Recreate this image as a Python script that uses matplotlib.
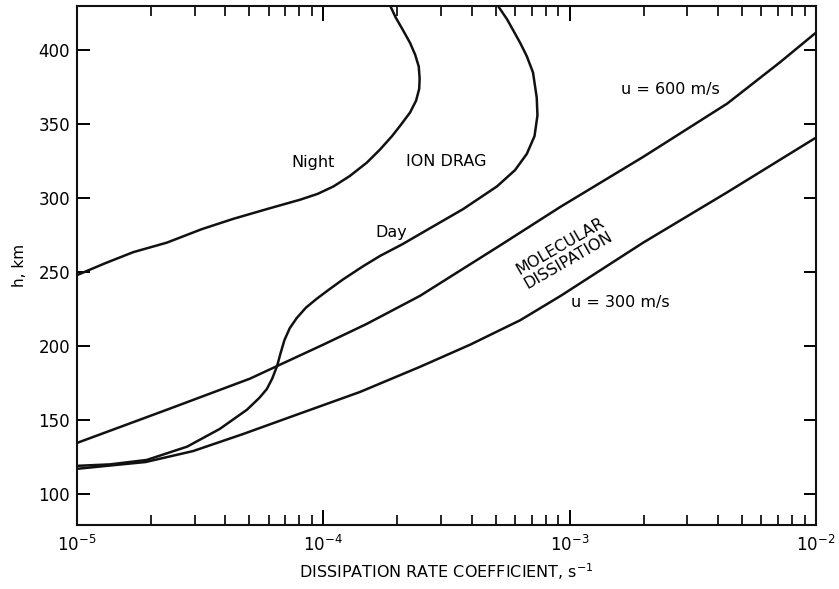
import numpy as np
import matplotlib
matplotlib.use("Agg")
import matplotlib.pyplot as plt
from matplotlib.ticker import LogLocator, NullFormatter

#-------- données (x en s^-1, h en km) --------#
night_x = [1.0e-5, 1.3e-5, 1.69e-5, 2.32e-5, 3.2e-5, 4.3e-5, 6.0e-5, 8.05e-5, 9.5e-5,
           1.1e-4, 1.28e-4, 1.5e-4, 1.7e-4, 1.9e-4, 2.05e-4, 2.25e-4, 2.38e-4, 2.45e-4,
           2.46e-4, 2.44e-4, 2.36e-4, 2.25e-4, 2.1e-4, 1.97e-4, 1.87e-4]
night_h = [248, 256, 263.5, 270, 279, 286, 293, 299, 303,
           308, 315, 324, 333, 342, 349, 358, 366, 374,
           381, 389, 397, 405, 414, 422, 430]

day_x = [1.0e-5, 1.36e-5, 1.92e-5, 2.8e-5, 3.8e-5, 4.9e-5, 5.5e-5, 5.9e-5, 6.2e-5,
         6.49e-5, 6.7e-5, 6.95e-5, 7.3e-5, 7.8e-5, 8.5e-5, 9.4e-5, 1.05e-4, 1.2e-4,
         1.45e-4, 1.7e-4, 2.1e-4, 2.54e-4, 3.69e-4, 5.07e-4, 6.0e-4, 6.7e-4, 7.2e-4,
         7.4e-4, 7.35e-4, 7.1e-4, 6.7e-4, 6.3e-4, 5.57e-4, 5.12e-4]
day_h = [119, 120, 123, 132, 144, 157, 165, 171, 178,
         186.5, 195, 204, 212, 219, 226, 232, 238, 245,
         254, 261, 269, 277, 292.6, 308, 319, 330, 342,
         356, 368, 385, 396, 405, 421, 430]

u600_x = [1e-5, 2.32e-5, 5.04e-5, 6.49e-5, 1e-4, 1.5e-4, 2.47e-4, 5.21e-4, 9.14e-4,
          1.99e-3, 4.36e-3, 7.15e-3, 1e-2]
u600_h = [134.5, 157, 178, 186.5, 201, 215, 234, 268, 294,
          328, 364, 392, 412]

u300_x = [1e-5, 1.9e-5, 2.96e-5, 4.72e-5, 7.53e-5, 1.41e-4, 2.47e-4, 3.95e-4,
          6.3e-4, 9.2e-4, 1.99e-3, 4.36e-3, 1e-2]
u300_h = [117, 121.6, 129, 140.5, 152.7, 169, 186, 201,
          217.5, 234, 270, 304, 341]

y_ticks = [100, 150, 200, 250, 300, 350, 400]

#-------- figure --------#
plt.rcParams['font.family'] = 'DejaVu Sans'
fig = plt.figure(figsize=(8.39, 5.89), dpi=100)
ax = fig.add_axes([77/839, 1-525/589, (816-77)/839, (525-6)/589])

lw = 1.8
for xs, hs in [(night_x, night_h), (day_x, day_h), (u600_x, u600_h), (u300_x, u300_h)]:
    ax.plot(xs, hs, color='#111111', lw=lw, solid_capstyle='round', solid_joinstyle='round')

ax.set_xscale('log')
ax.set_xlim(1e-5, 1e-2)
ax.set_ylim(79, 430)
ax.set_yticks(y_ticks)
ax.xaxis.set_major_locator(LogLocator(base=10))
ax.xaxis.set_minor_locator(LogLocator(base=10, subs=np.arange(2, 10)))
ax.xaxis.set_minor_formatter(NullFormatter())

ax.tick_params(axis='x', which='major', direction='in', length=11, width=1.4,
               top=True, labelsize=12, pad=7)
ax.tick_params(axis='x', which='minor', direction='in', length=7, width=1.2, top=True)
ax.tick_params(axis='y', which='major', direction='in', length=9, width=1.4,
               right=True, labelsize=12, pad=5)
for s in ax.spines.values():
    s.set_linewidth(1.5)
    s.set_color('#111111')

ax.set_xlabel('DISSIPATION RATE COEFFICIENT, s$^{-1}$', fontsize=11.5, labelpad=5)
ax.set_ylabel('h, km', fontsize=11, labelpad=8)

#-------- étiquettes --------#
fs = 11.5
ax.text(9.08e-5, 324, 'Night', fontsize=fs, ha='center', va='center')
ax.text(3.15e-4, 325, 'ION DRAG', fontsize=fs, ha='center', va='center')
ax.text(1.88e-4, 277, 'Day', fontsize=fs, ha='center', va='center')
ax.text(2.56e-3, 373.6, 'u = 600 m/s', fontsize=fs, ha='center', va='center')
ax.text(1.6e-3, 229.7, 'u = 300 m/s', fontsize=fs, ha='center', va='center')
ax.text(9.5e-4, 263, 'MOLECULAR\nDISSIPATION', fontsize=fs, ha='center', va='center',
        rotation=30, rotation_mode='anchor', multialignment='center', linespacing=1.1)

fig.savefig('out.png', dpi=100)
